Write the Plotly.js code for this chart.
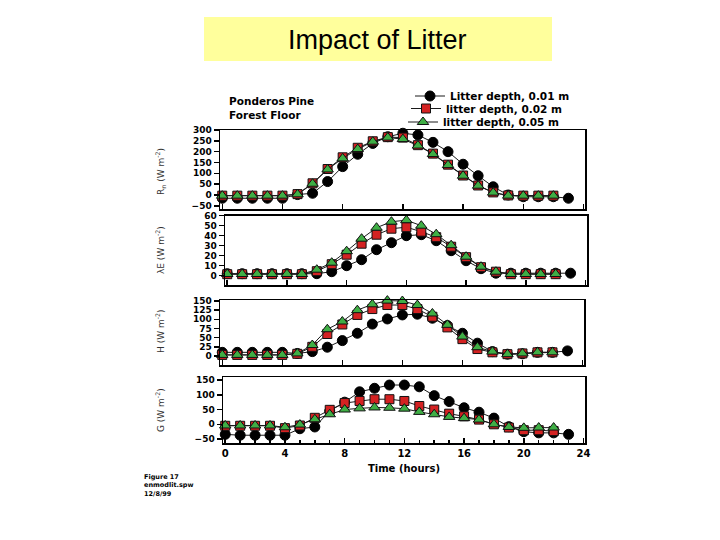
<!DOCTYPE html>
<html>
<head>
<meta charset="utf-8">
<script src="https://cdn.plot.ly/plotly-3.0.1.min.js"></script>
<style>html,body{margin:0;padding:0;background:#fff;}#chart{width:720px;height:540px;}</style>
</head>
<body>
<div id="chart"></div>
<script>
// ---- data ----
const hours01 = [0,1,2,3,4,5,6,7,8,9,10,11,12,13,14,15,16,17,18,19,20,21,22,23];
const hours02 = [0,1,2,3,4,5,6,7,8,9,10,11,12,13,14,15,16,17,18,19,20,21,22];
const hours05 = [0,1,2,3,4,5,6,7,8,9,10,11,12,13,14,15,16,17,18,19,20,21,22];

const seriesNames = ["Litter depth, 0.01 m", "litter depth, 0.02 m", "litter depth, 0.05 m"];

// Net radiation Rn
const rn01 = [-15,-15,-15,-15,-15,2,8,62,131,188,238,269,285,277,243,200,142,89,38,0,-8,-8,-8,-15];
const rn02 = [-3,-3,-3,-3,-3,4,54,120,174,218,248,267,265,230,191,140,90,44,12,-2,-3,-3,-3];
const rn05 = [-3,-3,-3,-3,-3,3,52,118,169,212,246,265,258,228,189,138,89,43,11,-3,-3,-3,-3];
// Latent heat LE
const le01 = [2,2,2,2,2,2,2,4,10,16,26,33,40,41,35,25,15,7,2.5,2.5,2.5,2.5,2.5,2.5];
const le02 = [1.5,1.5,1.5,1.5,1.5,1.5,4.5,11.5,21,32,41,47,48.5,44,38.5,29,18.5,8.5,4,1.5,1.5,1.5,1.5];
const le05 = [1.7,1.7,1.7,1.7,1.7,1.7,6,13,24.5,37,48,54,55.5,50,41.5,30.5,19,9,4,1.7,1.7,1.7,1.7];
// Sensible heat H
const h01 = [10,10,10,10,10,7,12,24,42,62,87,101,112,114,103,83,62,35,12,5,6,10,10,14];
const h02 = [3,3,3,3,3,6,25,60,86,112,128,139,139,128,107,78,46,19,10,5,7,10,10];
const h05 = [3,3,3,3,3,7,30,73,94,125,141,151,150,139,116,85,53,24,12,5,7,10,10];
// Ground heat G
const g01 = [-34,-37,-37,-37,-37,-15,-9,45,75,110,122,133,133,127,97,77,56,41,21,-8,-25,-29,-29,-34];
const g02 = [-5,-5,-5,-5,-13,-4,22,49,72,79,85,85,79,62,50,36,27,16,0,-11,-20,-20,-23];
const g05 = [-4,-4,-4,-4,-10,-1,17,34,50,54,57,56,53,42,34,25,21,16,0,-9,-12,-11,-11];

const xTicks = [0,4,8,12,16,20,24];
const yTicks1 = [-50,0,50,100,150,200,250,300];
const yTicks2 = [0,10,20,30,40,50,60];
const yTicks3 = [0,25,50,75,100,125,150];
const yTicks4 = [-50,0,50,100,150];

// ---- helpers ----
const W = 720, H = 540;
const fx = p => p / W;
const fy = p => 1 - p / H;
const FONT = "DejaVu Sans, Arial, sans-serif";

const styles = [
  {marker:{symbol:"circle", size:10, color:"#000000", line:{color:"#000000", width:1}}},
  {marker:{symbol:"square", size:9, color:"#d42222", line:{color:"#111111", width:1}}},
  {marker:{symbol:"triangle-up", size:10, color:"#3fae45", line:{color:"#111111", width:1}}}
];
const legendIds = ["legend", "legend2", "legend3"];

const panels = [
  {ys:[rn01, rn02, rn05]},
  {ys:[le01, le02, le05]},
  {ys:[h01, h02, h05]},
  {ys:[g01, g02, g05]}
];
const xs = [hours01, hours02, hours05];

const traces = [];
panels.forEach((p, pi) => {
  const sfx = pi === 0 ? "" : String(pi + 1);
  p.ys.forEach((y, si) => {
    traces.push({
      type: "scatter", mode: "lines+markers",
      x: xs[si], y: y,
      xaxis: "x" + sfx, yaxis: "y" + sfx,
      name: seriesNames[si],
      legendgroup: "s" + si,
      legend: legendIds[si],
      showlegend: pi === 0,
      line: {color: "#1a1a1a", width: 1},
      marker: styles[si].marker,
      cliponaxis: false
    });
  });
});

function xAxis(domPx, anchor, showLabels) {
  return {
    domain: [fx(domPx[0]), fx(domPx[1])], anchor: anchor,
    range: [-0.15, 24.1], tickvals: xTicks, ticks: "inside", ticklen: 5, tickwidth: 1.5,
    tickcolor: "#000", showline: true, linecolor: "#000", linewidth: 1.5, mirror: true,
    showgrid: false, zeroline: false, showticklabels: showLabels,
    tickfont: {family: FONT, size: 10, color: "#000", weight: "bold"}
  };
}
function yAxis(domPx, range, tickvals, anchor) {
  return {
    domain: [fy(domPx[1]), fy(domPx[0])], anchor: anchor,
    range: range, tickvals: tickvals, ticks: "outside", ticklen: 5, tickwidth: 1.5,
    tickcolor: "#000", showline: true, linecolor: "#000", linewidth: 1.5, mirror: true,
    showgrid: false, zeroline: false,
    tickfont: {family: FONT, size: 9, color: "#000", weight: "bold"}
  };
}

const xa4 = xAxis([223, 585], "y4", true);
xa4.title = {text: "Time (hours)", font: {family: FONT, size: 10, color: "#000", weight: "bold"}, standoff: 7};
xa4.minor = {dtick: 1, ticks: "inside", ticklen: 3, tickcolor: "#000"};

function legendAt(xPx, yPx) {
  return {x: fx(xPx), y: fy(yPx), xanchor: "left", yanchor: "middle", bgcolor: "rgba(0,0,0,0)",
          borderwidth: 0, font: {family: FONT, size: 10.5, color: "#000", weight: "bold"}};
}

const ann = (text, xPx, yPx, size, opts) => Object.assign({
  text: text, x: fx(xPx), y: fy(yPx), xref: "paper", yref: "paper", showarrow: false,
  xanchor: "left", yanchor: "middle", align: "left",
  font: {family: FONT, size: size, color: "#000", weight: "bold"}
}, opts || {});

const layout = {
  width: W, height: H,
  margin: {l: 0, r: 0, t: 0, b: 0},
  paper_bgcolor: "#ffffff", plot_bgcolor: "rgba(0,0,0,0)",
  showlegend: true,
  legend: legendAt(410, 96),
  legend2: legendAt(406, 108.5),
  legend3: legendAt(403, 122),
  xaxis: xAxis([220, 585], "y", false),
  xaxis2: xAxis([225, 587], "y2", false),
  xaxis3: xAxis([220, 584], "y3", false),
  xaxis4: xa4,
  yaxis: yAxis([130, 209], [-64.6, 300], yTicks1, "x"),
  yaxis2: yAxis([215.7, 285], [-9.3, 60], yTicks2, "x2"),
  yaxis3: yAxis([300, 365], [-24.5, 152.7], yTicks3, "x3"),
  yaxis4: yAxis([377, 443], [-63.3, 160.2], yTicks4, "x4"),
  shapes: [
    {type: "rect", xref: "paper", yref: "paper", x0: fx(204), x1: fx(552), y0: fy(61), y1: fy(17),
     fillcolor: "#ffff9c", line: {width: 0}, layer: "below"}
  ],
  annotations: [
    ann("Impact of Litter", 377, 40, 27, {xanchor: "center", font: {family: "Liberation Sans, Arial, sans-serif", size: 27, color: "#000"}}),
    ann("Ponderos Pine<br>Forest Floor", 227, 107.5, 10.5),
    ann("Figure 17<br>enmodlit.spw<br>12/8/99", 142, 485, 6.5),
    ann("R<sub>n</sub> (W m<sup>-2</sup>)", 160, 172, 9, {xanchor: "center", textangle: -90, font: {family: FONT, size: 9, color: "#333"}}),
    ann("λE (W m<sup>-2</sup>)", 160, 250, 9, {xanchor: "center", textangle: -90, font: {family: FONT, size: 9, color: "#333"}}),
    ann("H (W m<sup>-2</sup>)", 160, 332, 9, {xanchor: "center", textangle: -90, font: {family: FONT, size: 9, color: "#333"}}),
    ann("G (W m<sup>-2</sup>)", 160, 410, 9, {xanchor: "center", textangle: -90, font: {family: FONT, size: 9, color: "#333"}})
  ]
};

Plotly.newPlot("chart", traces, layout, {displayModeBar: false, staticPlot: true});
</script>
</body>
</html>
